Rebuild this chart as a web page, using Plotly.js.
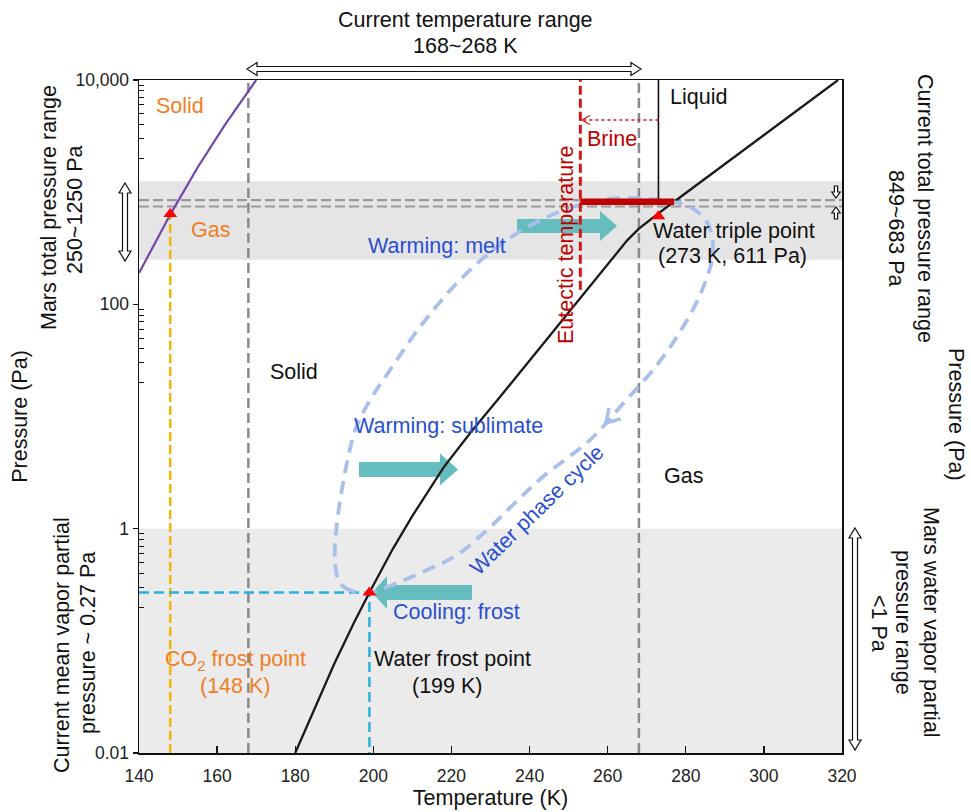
<!DOCTYPE html>
<html><head><meta charset="utf-8">
<script src="https://cdn.plot.ly/plotly-3.0.1.min.js"></script>
<style>html,body{margin:0;padding:0;background:#fff}#chart{width:971px;height:812px}</style>
</head><body><div id="chart"></div>
<script>
// ---------- data ----------
const xTickVals = [140,160,180,200,220,240,260,280,300,320];
const yTickVals = [0.01,1,100,10000];
const yTickText = ['0.01','1','100','10,000'];
const yMinorVals = [0.2,0.3,0.4,0.5,0.6,0.7,0.8,0.9,20,30,40,50,60,70,80,90,2000,3000,4000,5000,6000,7000,8000,9000];

const waterT = [180,185,190,195,199,205,210,218,225,232,242,252,262,265,268,271,273,277,283,290,300,310,319];
const waterP = [0.01,0.0254,0.0624,0.1445,0.27,0.661,1.30,3.52,7.28,14.3,38.5,105,282,372,473,575,646,822,1175,1778,3236,5781,10000];

const co2T = [140,148,155,162,170];
const co2P = [190,631,1660,3981,10000];

const cycleT = [199,194.54,191.46,190.18,190.44,191.72,193.51,195.56,199.15,203.75,211.95,221.42,231.66,244.46,258.03,270.83,281.08,285.69,286.97,284.41,279.29,272.63,263.67,255.47,243.44,235.76,229.10,221.42,213.74,206.06,199];
const cycleP = [0.27,0.278,0.328,0.505,0.934,2.0,4.27,7.9,14.0,24.4,62.8,155,324,601,851,869,737,520,293,140,62.8,28.8,12.7,6.17,2.9,1.63,0.97,0.582,0.428,0.328,0.27];
const cycleArrowT = 259.57, cycleArrowP = 8.75;   // arrow head on the cycle (pointing down-left)

const tempRange = [168,268];
const totalPressureBand = [250,1250];
const vaporBand = [0.01,1];
const currentPressure = [849,745];
const currentPressureLabel = [849,683];
const meanVapor = 0.27;

const pointT = [148,273,199];
const pointP = [640,611,0.27];
const co2FrostT = 148, co2FrostP = 640;
const frostT = 199, frostP = 0.27;
const tripleT = 273, tripleP = 611;

const eutecticT = 253;
const eutecticP = [135,10000];
const brineT = [253,277];
const brineP = 820;
const meltT = 273;
const meltP = [820,10000];
const brineArrowT = [273,253.4];
const brineArrowP = 4400;

// ---------- layout geometry ----------
const ML=139, MR=129, MT=80, MB=59, FW=971, FH=812;
const PW=FW-ML-MR, PH=FH-MT-MB;
const P = px => (px-ML)/PW;
const Q = py => (FH-MB-py)/PH;
const tx = T => ML + (T-140)/180*PW;           // data -> pixel (for decorations only)
const ty = p => MT + (4-Math.log10(p))/6*PH;
const FONT = 'Liberation Sans, Arial, sans-serif';

function pts2path(pts, close){ return 'M'+pts.map(p=>P(p[0]).toFixed(5)+','+Q(p[1]).toFixed(5)).join(' L')+(close?' Z':''); }
const pathPx = pts => pts2path(pts,true);
function hDouble(x1,x2,yc,sh,hh,hl){return pathPx([[x1,yc],[x1+hl,yc-hh],[x1+hl,yc-sh],[x2-hl,yc-sh],[x2-hl,yc-hh],[x2,yc],[x2-hl,yc+hh],[x2-hl,yc+sh],[x1+hl,yc+sh],[x1+hl,yc+hh]]);}
function vDouble(xc,y1,y2,sh,hh,hl){return pathPx([[xc,y1],[xc+hh,y1+hl],[xc+sh,y1+hl],[xc+sh,y2-hl],[xc+hh,y2-hl],[xc,y2],[xc-hh,y2-hl],[xc-sh,y2-hl],[xc-sh,y1+hl],[xc-hh,y1+hl]]);}
function blockRight(x1,x2,yc,sh,hh,hl){return pathPx([[x1,yc-sh],[x2-hl,yc-sh],[x2-hl,yc-hh],[x2,yc],[x2-hl,yc+hh],[x2-hl,yc+sh],[x1,yc+sh]]);}
function blockLeft(x1,x2,yc,sh,hh,hl){return pathPx([[x1,yc-sh],[x2+hl,yc-sh],[x2+hl,yc-hh],[x2,yc],[x2+hl,yc+hh],[x2+hl,yc+sh],[x1,yc+sh]]);}
function vSingle(xc,y1,y2,sh,hh,hl){
  const s = y2>y1?1:-1;
  return pathPx([[xc-sh,y1],[xc+sh,y1],[xc+sh,y2-s*hl],[xc+hh,y2-s*hl],[xc,y2],[xc-hh,y2-s*hl],[xc-sh,y2-s*hl]]);
}
function chevron(x,y,dx,dy,len,half){
  const n=Math.hypot(dx,dy); dx/=n; dy/=n; const qx=-dy, qy=dx;
  return pts2path([[x-len*dx+half*qx, y-len*dy+half*qy],[x,y],[x-len*dx-half*qx, y-len*dy-half*qy]], false);
}

const hollow = {type:'path', xref:'paper', yref:'paper', fillcolor:'#ffffff', line:{color:'#111',width:1.2}, layer:'above'};
const teal = {type:'path', xref:'paper', yref:'paper', fillcolor:'#66bdbf', line:{width:0}, layer:'below'};
const openLine = (c,w)=>({type:'path', xref:'paper', yref:'paper', fillcolor:'rgba(0,0,0,0)', line:{color:c,width:w}, layer:'above'});

const cax = tx(cycleArrowT), cay = ty(cycleArrowP);
const bax = tx(brineArrowT[1]), bay = ty(brineArrowP);

const shapes = [
  {type:'rect', xref:'x domain', yref:'y', x0:0, x1:1, y0:totalPressureBand[0], y1:totalPressureBand[1], fillcolor:'#e5e5e5', line:{width:0}, layer:'below'},
  {type:'rect', xref:'x domain', yref:'y', x0:0, x1:1, y0:vaporBand[0], y1:vaporBand[1], fillcolor:'#ebebeb', line:{width:0}, layer:'below'},
  Object.assign({path:blockRight(517,617,226,7,15,17)}, teal),
  Object.assign({path:blockRight(359,458,469.5,7.5,16,18)}, teal),
  Object.assign({path:blockLeft(472,372,592.5,7.5,16.5,15)}, teal),
  Object.assign({path:hDouble(247,641,69,2.5,6.5,10)}, hollow),
  Object.assign({path:vDouble(125,183,261,2.5,6,10)}, hollow),
  Object.assign({path:vDouble(855,528,750,2.5,6,10)}, hollow),
  Object.assign({path:vSingle(836,186,198,1.6,4.2,6)}, hollow),
  Object.assign({path:vSingle(836,219,207,1.6,4.2,6)}, hollow),
  Object.assign({path:chevron(cax,cay,-0.675,0.738,13,8)}, openLine('#a9c0ea',3.5)),
  Object.assign({path:chevron(bax,bay,-1,0,8,4.5)}, openLine('#d01818',1.2))
];

// ---------- traces ----------
const none = {hoverinfo:'skip', showlegend:false};
const traces = [
  Object.assign({x:[tempRange[0],tempRange[0]], y:[0.01,10000], mode:'lines', line:{color:'#8a8a8a',width:2.5,dash:'10px,5px'}}, none),
  Object.assign({x:[tempRange[1],tempRange[1]], y:[0.01,10000], mode:'lines', line:{color:'#8a8a8a',width:2.5,dash:'10px,5px'}}, none),
  Object.assign({x:[140,320], y:[currentPressure[0],currentPressure[0]], mode:'lines', line:{color:'#9a9a9a',width:2.2,dash:'10px,4px'}}, none),
  Object.assign({x:[140,320], y:[currentPressure[1],currentPressure[1]], mode:'lines', line:{color:'#9a9a9a',width:2.2,dash:'10px,4px'}}, none),
  Object.assign({x:[co2FrostT,co2FrostT], y:[0.01,co2FrostP], mode:'lines', line:{color:'#f2b705',width:2.5,dash:'9px,4px'}}, none),
  Object.assign({x:[140,frostT,frostT], y:[meanVapor,frostP,0.01], mode:'lines', line:{color:'#2ab0e0',width:2.5,dash:'10px,5px'}}, none),
  Object.assign({x:co2T, y:co2P, mode:'lines', line:{color:'#7446a8',width:2.2}}, none),
  Object.assign({x:waterT, y:waterP, mode:'lines', line:{color:'#1a1a1a',width:2.3}}, none),
  Object.assign({x:cycleT, y:cycleP, mode:'lines', line:{color:'#a9c0ea',width:3.8,dash:'13px,8px',shape:'spline',smoothing:1}}, none),
  Object.assign({x:[meltT,meltT], y:meltP, mode:'lines', line:{color:'#111',width:1.6}}, none),
  Object.assign({x:[eutecticT,eutecticT], y:eutecticP, mode:'lines', line:{color:'#d01818',width:3,dash:'9px,4px'}}, none),
  Object.assign({x:brineT, y:[brineP,brineP], mode:'lines', line:{color:'#c00000',width:6.5}}, none),
  Object.assign({x:brineArrowT, y:[brineArrowP,brineArrowP], mode:'lines', line:{color:'#d01818',width:1.3,dash:'dot'}}, none),
  Object.assign({x:pointT, y:pointP, mode:'markers', marker:{symbol:'triangle-up', size:12, color:'#ff0000'}}, none)
];

// ---------- annotations ----------
const FS = 21.5;
function A(text, px, py, o){
  o = o||{};
  return {text:text, xref:'paper', yref:'paper', x:P(px), y:Q(py), xanchor:'center', yanchor:'middle', showarrow:false,
    font:{family:FONT, size:o.size||FS, color:o.color||'#111'}, textangle:o.angle||0, align:'center'};
}
const orange = '#f07e26', blue = '#2a4fd2', dred = '#c00000';
const annotations = [
  A('Current temperature range', 465, 20),
  A(tempRange[0]+'~'+tempRange[1]+' K', 465, 46),
  A('Mars total pressure range', 49, 208, {angle:-90}),
  A(totalPressureBand[0]+'~'+totalPressureBand[1]+' Pa', 75, 210, {angle:-90}),
  A('Current mean vapor partial', 62, 645, {angle:-90}),
  A('pressure ~ '+meanVapor+' Pa', 88, 643, {angle:-90}),
  A('Current total pressure range', 925, 208, {angle:90}),
  A(currentPressureLabel[0]+'~'+currentPressureLabel[1]+' Pa', 896, 228, {angle:90}),
  A('Pressure (Pa)', 956, 415, {angle:90}),
  A('Mars water vapor partial', 931, 622, {angle:90}),
  A('pressure range', 903, 622, {angle:90}),
  A('&lt;1 Pa', 879, 623, {angle:90}),
  A('Solid', 180, 106, {color:orange}),
  A('Gas', 210, 230, {color:orange}),
  A('CO<sub>2</sub> frost point', 235, 660, {color:orange}),
  A('('+co2FrostT+' K)', 235, 686, {color:orange}),
  A('Liquid', 698, 97),
  A('Brine', 612, 139, {color:dred}),
  A('Eutectic temperature', 566, 245, {angle:-90, color:dred}),
  A('Water triple point', 734, 231),
  A('('+tripleT+' K, '+tripleP+' Pa)', 732, 256),
  A('Warming: melt', 437, 246, {color:blue}),
  A('Solid', 294, 372),
  A('Warming: sublimate', 448, 426, {color:blue}),
  A('Gas', 683, 476),
  A('Water phase cycle', 537, 510, {angle:-44, color:blue}),
  A('Cooling: frost', 456, 612, {color:blue}),
  A('Water frost point', 452, 659),
  A('('+frostT+' K)', 447, 686)
];

const layout = {
  width:FW, height:FH,
  margin:{l:ML, r:MR, t:MT, b:MB, pad:0},
  paper_bgcolor:'#fff', plot_bgcolor:'#fff',
  showlegend:false,
  font:{family:FONT, size:17.5, color:'#111'},
  xaxis:{range:[140,320], tickvals:xTickVals, ticks:'inside', ticklen:7, tickwidth:1.3, tickcolor:'#111',
    showline:true, mirror:true, linecolor:'#111', linewidth:1.5, showgrid:false, zeroline:false,
    tickfont:{size:17.5, color:'#222'}, ticklabelstandoff:6,
    title:{text:'Temperature (K)', font:{size:FS, color:'#111'}, standoff:5}, automargin:false},
  yaxis:{type:'log', range:[-2,4], tickvals:yTickVals, ticktext:yTickText, ticks:'outside', ticklen:5, tickwidth:1.3, tickcolor:'#111',
    minor:{tickvals:yMinorVals, ticks:'inside', ticklen:5, tickcolor:'#111', tickwidth:1},
    showline:true, mirror:true, linecolor:'#111', linewidth:1.5, showgrid:false, zeroline:false,
    tickfont:{size:17.5, color:'#222'},
    title:{text:'Pressure (Pa)', font:{size:FS, color:'#111'}, standoff:42}, automargin:false},
  shapes:shapes,
  annotations:annotations
};

Plotly.newPlot('chart', traces, layout, {displayModeBar:false, staticPlot:true});
</script>
</body></html>
